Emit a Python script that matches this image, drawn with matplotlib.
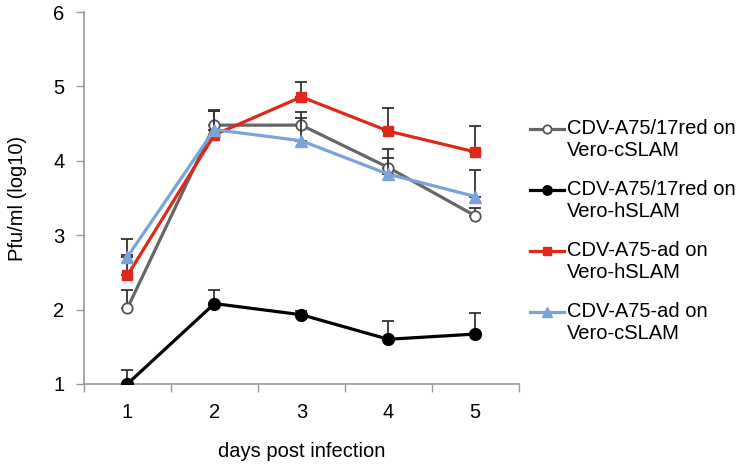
import matplotlib
matplotlib.use('Agg')
import matplotlib.pyplot as plt
from matplotlib.legend_handler import HandlerLine2D
import numpy as np

plt.rcParams['font.family'] = ['Liberation Sans', 'DejaVu Sans']

#%% data
days = [1, 2, 3, 4, 5]

gray_vals = [2.02, 4.48, 4.48, 3.91, 3.26]
gray_err = [0.24, 0.20, 0.18, 0.25, 0.10]

black_vals = [1.00, 2.08, 1.93, 1.60, 1.67]
black_err = [0.18, 0.18, 0.05, 0.25, 0.28]

red_vals = [2.46, 4.35, 4.86, 4.40, 4.12]
red_err = [0.28, 0.32, 0.20, 0.31, 0.35]

blue_vals = [2.71, 4.42, 4.27, 3.82, 3.52]
blue_err = [0.24, 0.25, 0.30, 0.22, 0.35]

labels = ['CDV-A75/17red on\nVero-cSLAM', 'CDV-A75/17red on\nVero-hSLAM',
          'CDV-A75-ad on\nVero-hSLAM', 'CDV-A75-ad on\nVero-cSLAM']


# legend handle sits next to the first line of a two-line label
class TopHandler(HandlerLine2D):
    def create_artists(self, legend, orig_handle, xdescent, ydescent,
                       width, height, fontsize, trans):
        arts = super().create_artists(legend, orig_handle, xdescent, ydescent,
                                      width, height, fontsize, trans)
        for a in arts:
            a.set_ydata(np.asarray(a.get_ydata()) + 8.0)
        return arts


#%% plot
fig = plt.figure(figsize=(7.4, 4.67), dpi=100)
ax = fig.add_axes([0.1135, 0.178, 0.5875, 0.796])

series = [
    (gray_vals, gray_err, dict(color='#666666', marker='o', mfc='white', mec='#555555', ms=7.5, mew=1.3)),
    (black_vals, black_err, dict(color='black', marker='o', mfc='black', mec='black', ms=8.5)),
    (red_vals, red_err, dict(color='#e0281a', marker='s', mfc='#e0281a', mec='#e0281a', ms=7.5)),
    (blue_vals, blue_err, dict(color='#7aa3dc', marker='^', mfc='#7aa3dc', mec='#7aa3dc', ms=8.5)),
]

handles = []
for i, (vals, err, st) in enumerate(series):
    ax.errorbar(days, vals, yerr=[np.zeros(len(err)), err], fmt='none',
                ecolor='#333333', elinewidth=1.3, capsize=4, capthick=1.3, zorder=2 + i)
    h, = ax.plot(days, vals, lw=2.3, zorder=3 + i, **st)
    handles.append(h)

ax.set_xlim(0.5, 5.5)
ax.set_ylim(1, 6)
ax.set_yticks([1, 2, 3, 4, 5, 6])
ax.set_xticks(days)
ax.set_xticks(np.arange(0.5, 6.0, 1.0), minor=True)
ax.tick_params(axis='x', which='major', length=0, pad=14, labelsize=14.5)
ax.tick_params(axis='x', which='minor', length=6, color='#999999', direction='out', width=1)
ax.tick_params(axis='y', length=6, color='#999999', width=1, labelsize=14.5, pad=8)

for side in ['top', 'right']:
    ax.spines[side].set_visible(False)
for side in ['left', 'bottom']:
    ax.spines[side].set_color('#999999')
    ax.spines[side].set_linewidth(1.2)

ax.set_xlabel('days post infection', fontsize=14.5, labelpad=14)
ax.set_ylabel('Pfu/ml (log10)', fontsize=14.5, labelpad=19)

fig.legend(handles, labels, loc='center left', bbox_to_anchor=(0.705, 0.505),
           frameon=False, fontsize=14.5, handlelength=1.7, handletextpad=0.15,
           labelspacing=1.0, borderaxespad=0, markerscale=0.8,
           handler_map={h: TopHandler() for h in handles})

fig.savefig('out.png', dpi=100)
